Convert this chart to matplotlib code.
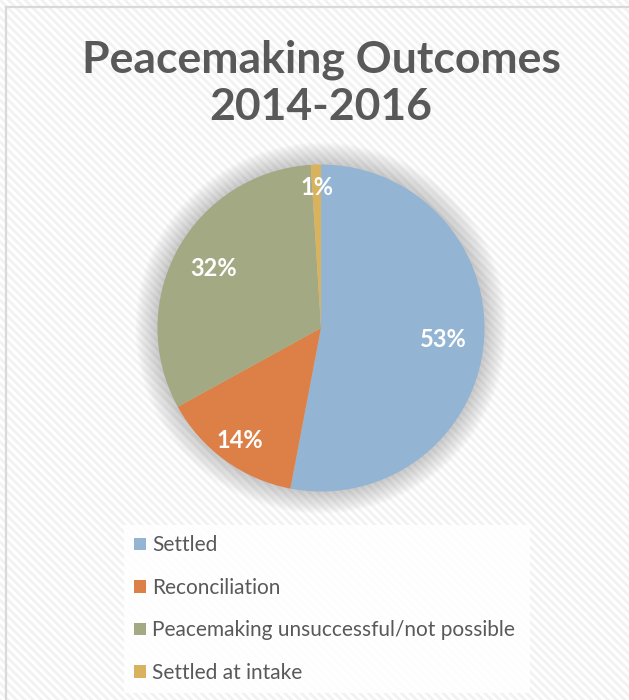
import numpy as np
import matplotlib
matplotlib.use("Agg")
import matplotlib.pyplot as plt
from matplotlib.patches import Rectangle, Circle
from matplotlib.lines import Line2D

# chart data
categories = ["Settled", "Reconciliation",
              "Peacemaking unsuccessful/not possible", "Settled at intake"]
shares = [53, 14, 32, 1]
colors = ["#93b5d3", "#dd8047", "#a3a982", "#d8b25c"]
title = "Peacemaking Outcomes\n2014-2016"

# radial distance of each percentage label
label_r = [0.75, 0.85, 0.75, 0.86]

plt.rcParams["font.family"] = ["Lato", "DejaVu Sans"]
plt.rcParams["hatch.linewidth"] = 2.0

W, H = 629, 700
fig = plt.figure(figsize=(W / 100, H / 100), dpi=100)

# striped background + thin border on top/left
bg = Rectangle((0, 0), 1, 1, transform=fig.transFigure, facecolor="white",
               edgecolor="#f2f2f2", hatch="\\\\\\\\", linewidth=0, zorder=-10)
fig.add_artist(bg)
fig.add_artist(Line2D([6.5 / W, 6.5 / W], [0, 1 - 6.5 / H], transform=fig.transFigure,
                      color="#d9d9d9", lw=1.6))
fig.add_artist(Line2D([6.5 / W, 1], [1 - 6.5 / H, 1 - 6.5 / H], transform=fig.transFigure,
                      color="#d9d9d9", lw=1.6))

fig.text(321 / W, 1 - 83 / H, title, ha="center", va="center", fontsize=32,
         fontweight="bold", color="#595959", linespacing=1.2)

# pie
cx, cy, rad = 321, 328, 163.5
lim = 1.15
half = rad * lim
ax = fig.add_axes([(cx - half) / W, (H - cy - half) / H, 2 * half / W, 2 * half / H])

# soft glow behind the pie
for k in range(16):
    ax.add_patch(Circle((0, 0), 1 + 0.009 * k, facecolor="#7f7f7f", alpha=0.028,
                        lw=0, zorder=0))

wedges, texts, autotexts = ax.pie(
    shares, colors=colors, startangle=90, counterclock=False, radius=1,
    wedgeprops=dict(linewidth=0, zorder=2), autopct="%.0f%%", pctdistance=0.75,
    textprops=dict(color="white", fontsize=17, fontweight="bold"))

for w, t, r in zip(wedges, autotexts, label_r):
    ang = np.deg2rad((w.theta1 + w.theta2) / 2)
    t.set_position((r * np.cos(ang), r * np.sin(ang)))
    t.set_zorder(5)

ax.set_xlim(-lim, lim)
ax.set_ylim(-lim, lim)
ax.set_aspect("equal")
ax.axis("off")

leg = fig.legend(wedges, categories, loc="upper left",
                 bbox_to_anchor=(124 / W, 1 - 525 / H, 406 / W, 0), mode="expand",
                 frameon=True, facecolor="white", edgecolor="none", framealpha=0.85,
                 fontsize=15, labelcolor="#595959", handlelength=0.55,
                 handleheight=0.55, handletextpad=0.3, labelspacing=1.08,
                 borderpad=0.5, borderaxespad=0, fancybox=False)

fig.savefig("out.png", dpi=100)
